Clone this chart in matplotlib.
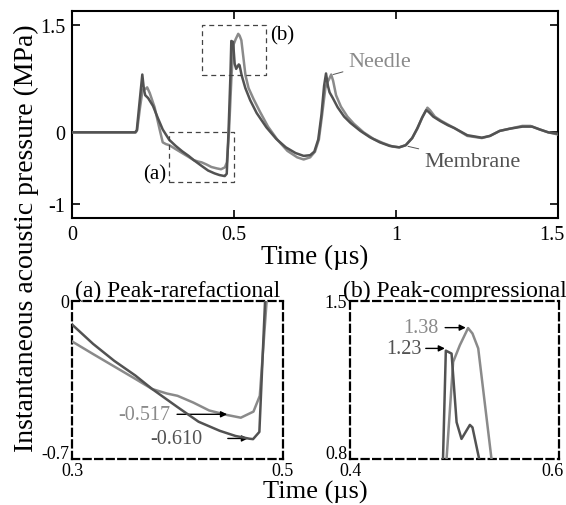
import matplotlib
matplotlib.use("Agg")
import matplotlib.pyplot as plt
import matplotlib.transforms as mtransforms

plt.rcParams['font.family'] = ['Liberation Serif', 'DejaVu Serif']

# ---- data (time in µs, pressure in MPa) ----
membrane_t = [0.0, 0.195, 0.200, 0.208, 0.217, 0.222, 0.226, 0.235, 0.250, 0.265, 0.280, 0.300,
              0.320, 0.340, 0.360, 0.376, 0.400, 0.420, 0.440, 0.455, 0.468, 0.4716, 0.4776,
              0.483, 0.489, 0.4917, 0.4972, 0.502, 0.5067, 0.5147, 0.5172, 0.5236, 0.535, 0.550,
              0.570, 0.600, 0.630, 0.660, 0.690, 0.715, 0.735, 0.748, 0.760, 0.770, 0.778, 0.784,
              0.790, 0.795, 0.805, 0.820, 0.840, 0.860, 0.890, 0.920, 0.950, 0.980, 1.010, 1.030,
              1.050, 1.065, 1.080, 1.093, 1.100, 1.115, 1.136, 1.160, 1.180, 1.220, 1.265, 1.290,
              1.320, 1.350, 1.390, 1.420, 1.444, 1.470, 1.500]
membrane_p = [0.0, 0.0, 0.03, 0.40, 0.81, 0.60, 0.52, 0.48, 0.37, 0.20, 0.04, -0.104,
              -0.19, -0.265, -0.33, -0.39, -0.47, -0.535, -0.575, -0.598, -0.61, -0.612, -0.58,
              0.0, 0.80, 1.28, 1.267, 0.963, 0.889, 0.951, 0.94, 0.80, 0.62, 0.45,
              0.27, 0.07, -0.09, -0.21, -0.29, -0.33, -0.32, -0.27, -0.10, 0.25, 0.65, 0.825,
              0.65, 0.56, 0.48, 0.35, 0.22, 0.13, 0.02, -0.07, -0.14, -0.19, -0.21, -0.18,
              -0.08, 0.05, 0.20, 0.31, 0.29, 0.22, 0.16, 0.10, 0.06, -0.04, -0.075, -0.05,
              0.02, 0.05, 0.08, 0.08, 0.04, 0.0, -0.02]

needle_t = [0.0, 0.197, 0.201, 0.210, 0.218, 0.225, 0.232, 0.240, 0.255, 0.270, 0.280, 0.290,
            0.300, 0.320, 0.340, 0.360, 0.376, 0.390, 0.400, 0.415, 0.430, 0.447, 0.460, 0.472,
            0.478, 0.4845, 0.4924, 0.4987, 0.5051, 0.513, 0.5172, 0.5227, 0.5354, 0.545, 0.560,
            0.580, 0.605, 0.635, 0.665, 0.695, 0.715, 0.735, 0.750, 0.762, 0.772, 0.782, 0.788,
            0.793, 0.800, 0.806, 0.815, 0.830, 0.850, 0.870, 0.900, 0.930, 0.960, 0.990, 1.010,
            1.030, 1.050, 1.067, 1.082, 1.097, 1.105, 1.120, 1.140, 1.160, 1.180, 1.220, 1.265,
            1.290, 1.320, 1.350, 1.390, 1.415, 1.444, 1.470, 1.500]
needle_p = [0.0, 0.0, 0.03, 0.35, 0.60, 0.60, 0.63, 0.55, 0.35, 0.05, -0.14, -0.165,
            -0.179, -0.235, -0.29, -0.345, -0.39, -0.41, -0.42, -0.45, -0.485, -0.505, -0.517, -0.49,
            -0.42, 0.0, 0.80, 1.23, 1.304, 1.38, 1.356, 1.29, 0.80, 0.62, 0.47,
            0.29, 0.08, -0.11, -0.26, -0.35, -0.38, -0.35, -0.27, -0.10, 0.25, 0.62, 0.70,
            0.74, 0.81, 0.72, 0.52, 0.36, 0.22, 0.12, 0.0, -0.09, -0.15, -0.20, -0.21,
            -0.18, -0.08, 0.06, 0.22, 0.345, 0.31, 0.22, 0.16, 0.11, 0.06, -0.05, -0.08,
            -0.05, 0.02, 0.05, 0.09, 0.09, 0.04, 0.0, -0.03]

main_xticks = [0, 0.5, 1, 1.5]
main_xticklabels = ["0", "0.5", "1", "1.5"]
main_yticks = [1.5, 0, -1]
main_yticklabels = ["1.5", "0", "-1"]

peak_rare_needle = -0.517
peak_rare_membrane = -0.610
peak_comp_needle = 1.38
peak_comp_membrane = 1.23

C_NEEDLE = '#8a8a8a'
C_MEMB = '#525252'
LW = 1.8

fig = plt.figure(figsize=(5.66, 5.06), dpi=100)
W, H = 566, 506

def box(l, t, r, b):
    return [l / W, 1 - b / H, (r - l) / W, (b - t) / H]

def shift(label, dx_px, dy_px):
    label.set_transform(label.get_transform() +
                        mtransforms.ScaledTranslation(dx_px / 100, dy_px / 100, fig.dpi_scale_trans))

# ---- main axes ----
ax = fig.add_axes(box(72, 12, 558, 219))
ax.plot(needle_t, needle_p, color=C_NEEDLE, lw=LW, zorder=3)
ax.plot(membrane_t, membrane_p, color=C_MEMB, lw=LW, zorder=4)
ax.set_xlim(0, 1.5)
ax.set_ylim(-1.2, 1.7)
ax.set_xticks(main_xticks)
ax.set_xticklabels(main_xticklabels)
ax.set_yticks(main_yticks)
ax.set_yticklabels(main_yticklabels)
ax.tick_params(direction='in', length=6, width=1.2, labelsize=14.5, top=True, right=True, pad=5)
for s in ax.spines.values():
    s.set_linewidth(1.5)
ax.set_xlabel("Time (µs)", fontsize=19.5, labelpad=0)
shift(ax.get_xticklabels()[-1], -6, 0)

# zoom boxes
for (x0, x1, y0, y1) in [(0.3, 0.5, -0.7, 0.0), (0.4, 0.6, 0.8, 1.5)]:
    ax.plot([x0, x1, x1, x0, x0], [y0, y0, y1, y1, y0], ls=(0, (4, 3)), color='#444444', lw=0.9, zorder=5)
ax.text(0.256, -0.58, "(a)", fontsize=15, ha='center', va='center')
ax.text(0.648, 1.37, "(b)", fontsize=15, ha='center', va='center')

ax.annotate("Needle", xy=(0.806, 0.81), xytext=(0.853, 0.99), color=C_NEEDLE, fontsize=16,
            va='center', ha='left',
            arrowprops=dict(arrowstyle='-', color='#555555', lw=0.7, shrinkA=2, shrinkB=0))
ax.annotate("Membrane", xy=(1.037, -0.196), xytext=(1.087, -0.405), color=C_MEMB, fontsize=16,
            va='center', ha='left',
            arrowprops=dict(arrowstyle='-', color='#555555', lw=0.7, shrinkA=2, shrinkB=0))

# ---- inset axes ----
def inset(pos, xlim, ylim, title, xl, yl):
    a = fig.add_axes(pos)
    a.plot(needle_t, needle_p, color=C_NEEDLE, lw=LW, zorder=3)
    a.plot(membrane_t, membrane_p, color=C_MEMB, lw=LW, zorder=4)
    a.set_xlim(*xlim)
    a.set_ylim(*ylim)
    a.set_xticks(list(xlim))
    a.set_yticks(list(ylim))
    a.set_xticklabels(xl)
    a.set_yticklabels(yl)
    a.tick_params(length=0, labelsize=13, pad=2)
    a.tick_params(axis='x', pad=2)
    for s in a.spines.values():
        s.set_linestyle((0, (3.2, 2.0)))
        s.set_linewidth(1.6)
    a.set_title(title, fontsize=17, pad=3)
    shift(a.get_yticklabels()[0], 0, 7)
    return a

axa = inset(box(72, 302, 283, 460), (0.3, 0.5), (-0.7, 0.0), "(a) Peak-rarefactional",
            ["0.3", "0.5"], ["-0.7", "0"])
axb = inset(box(350, 302, 559, 460), (0.4, 0.6), (0.8, 1.5), "(b) Peak-compressional",
            ["0.4", "0.6"], ["0.8", "1.5"])
shift(axb.get_xticklabels()[-1], -6, 0)

arr = dict(arrowstyle='-|>', color='black', lw=1.0, mutation_scale=9, shrinkA=3, shrinkB=0)
axa.annotate(f"{peak_rare_needle:.3f}", xy=(0.447, -0.502), xytext=(0.393, -0.502),
             color=C_NEEDLE, fontsize=14.5, ha='right', va='center', arrowprops=arr)
axa.annotate(f"{peak_rare_membrane:.3f}", xy=(0.4668, -0.609), xytext=(0.424, -0.609),
             color=C_MEMB, fontsize=14.5, ha='right', va='center',
             arrowprops=dict(arr, shrinkA=16))
axb.annotate(f"{peak_comp_needle:.2f}", xy=(0.5108, 1.382), xytext=(0.4844, 1.382),
             color=C_NEEDLE, fontsize=14.5, ha='right', va='center', arrowprops=arr)
axb.annotate(f"{peak_comp_membrane:.2f}", xy=(0.4908, 1.29), xytext=(0.4685, 1.29),
             color=C_MEMB, fontsize=14.5, ha='right', va='center', arrowprops=dict(arr, shrinkA=1))

fig.text(315 / W, 1 - 492 / H, "Time (µs)", fontsize=19, ha='center', va='center')
fig.text(26 / W, 1 - 238 / H, "Instantaneous acoustic pressure (MPa)", fontsize=20,
         rotation=90, ha='center', va='center')

fig.savefig("out.png", dpi=100)
